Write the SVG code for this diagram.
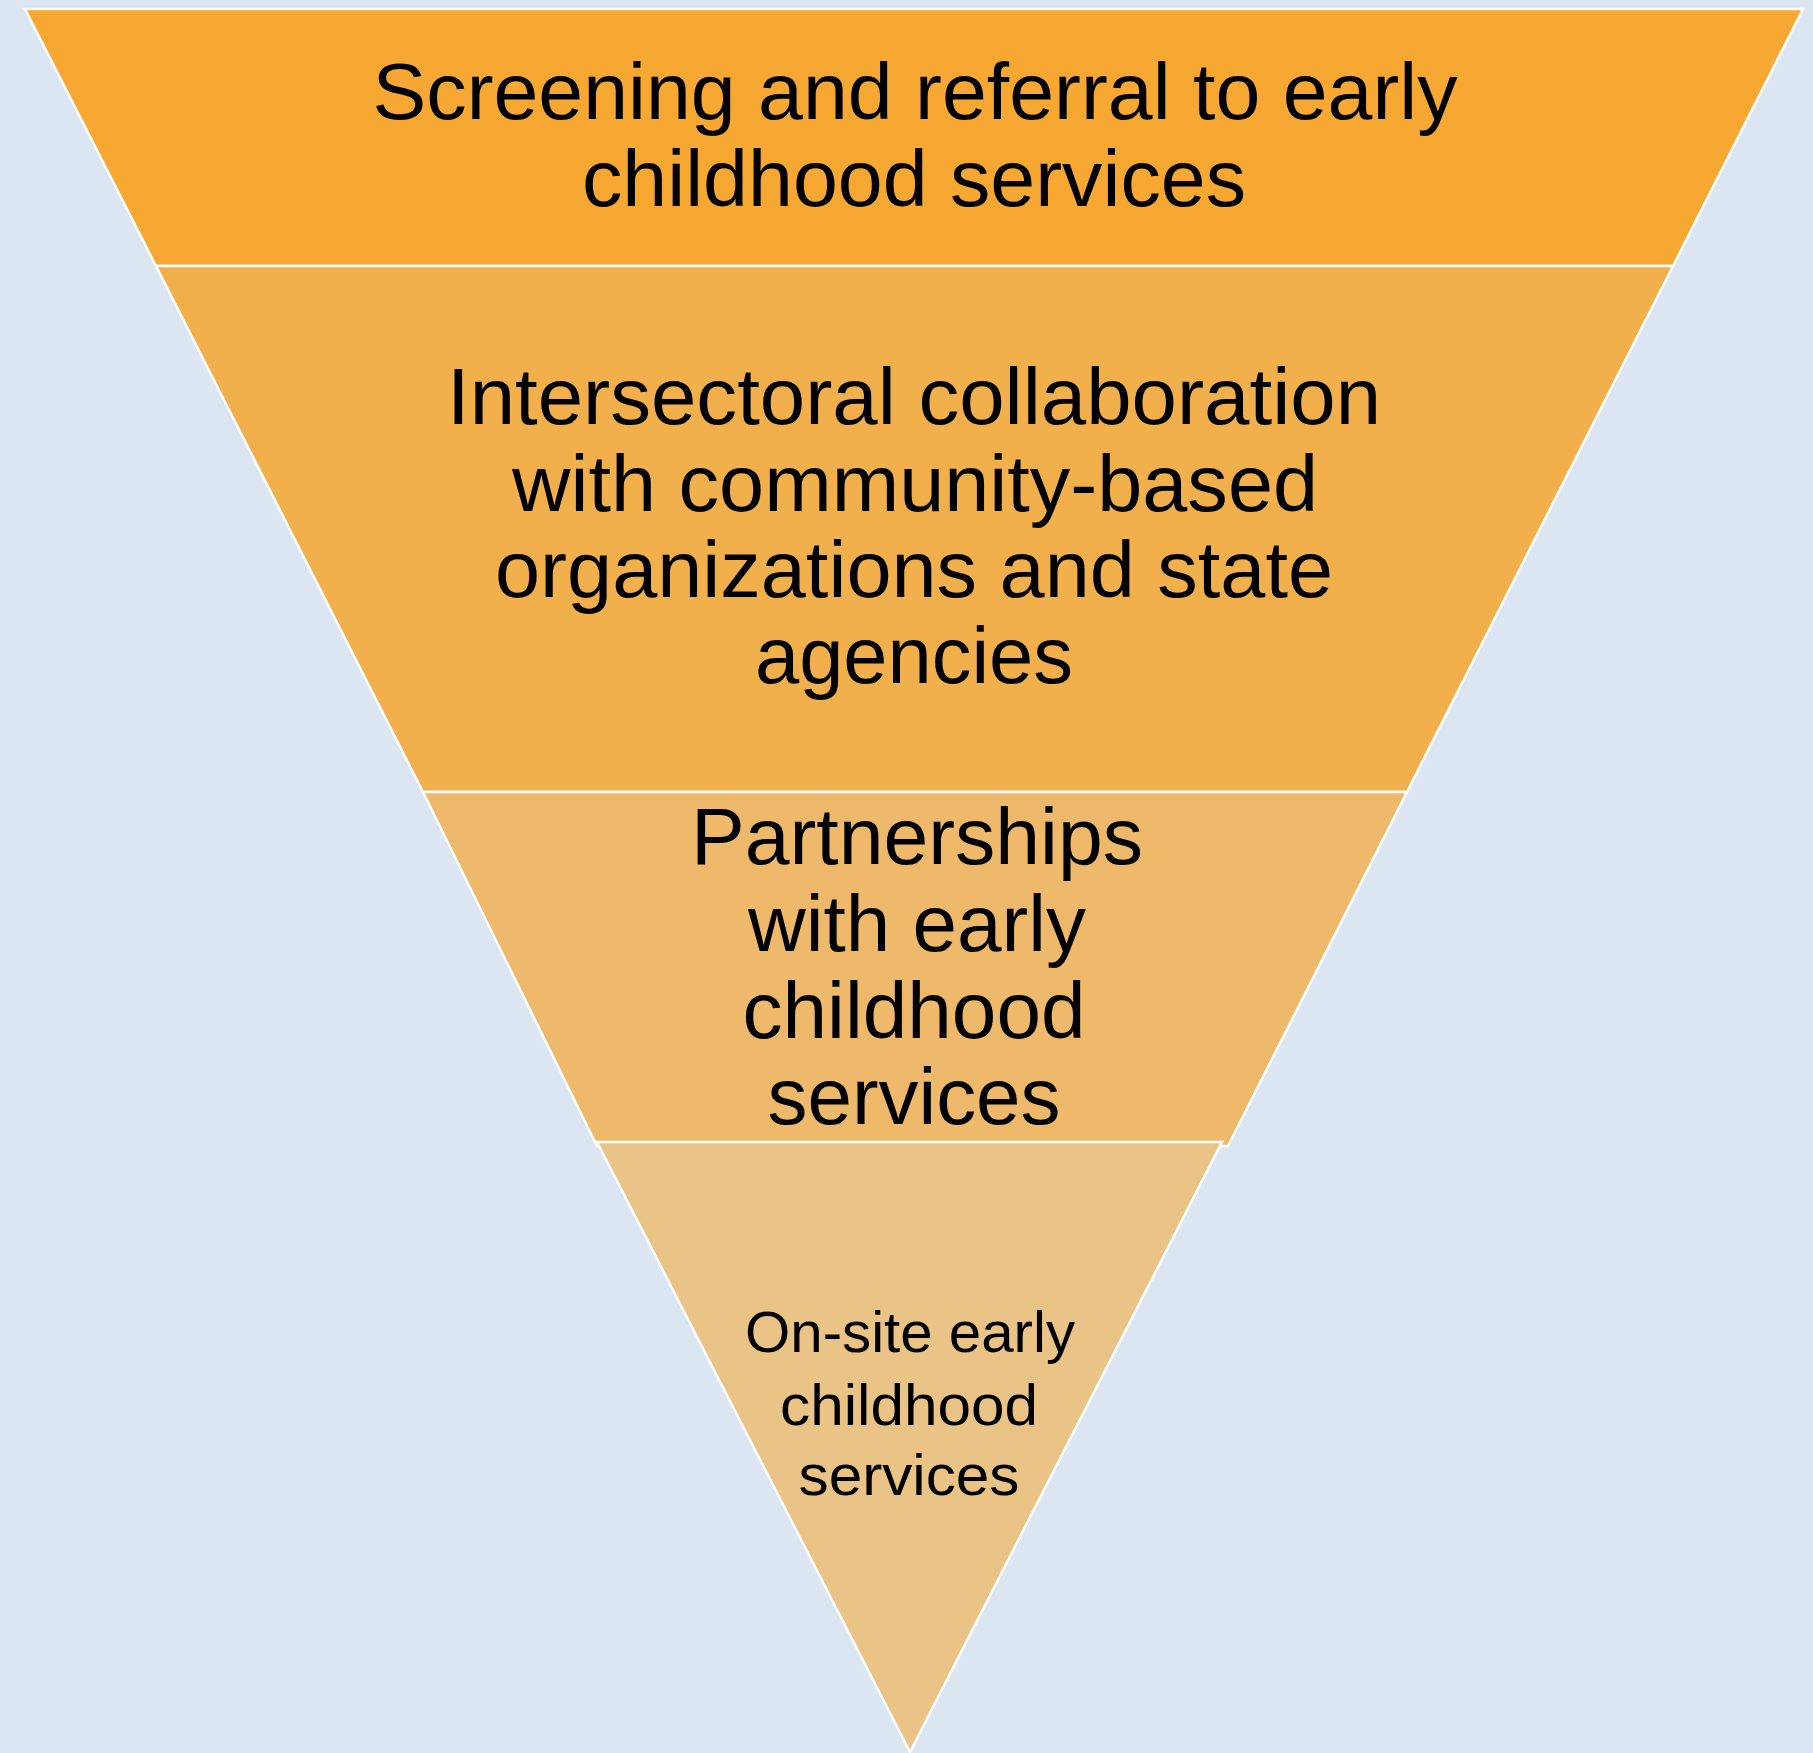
<svg xmlns="http://www.w3.org/2000/svg" width="1813" height="1753" viewBox="0 0 1813 1753">
<style>
.band{stroke:#FFFFFF;stroke-width:2.5;stroke-linejoin:miter}
.t{font-family:"Liberation Sans",Arial,sans-serif;fill:#000000;text-anchor:middle}
.big{font-size:80px}
.small{font-size:57px}
</style>
<rect width="1813" height="1753" fill="#DCE5F2"/>
<g id="band1">
<polygon class="band" fill="#F6A832" points="25,9 1803,9 1673,266 156,266"/>
<text class="t big" x="915" y="119" textLength="1085" lengthAdjust="spacingAndGlyphs">Screening and referral to early</text>
<text class="t big" x="914" y="206" textLength="664" lengthAdjust="spacingAndGlyphs">childhood services</text>
</g>
<g id="band2">
<polygon class="band" fill="#F1B04C" points="156,266 1673,266 1407,792 423,792"/>
<text class="t big" x="914" y="424" textLength="934" lengthAdjust="spacingAndGlyphs">Intersectoral collaboration</text>
<text class="t big" x="915" y="511" textLength="806" lengthAdjust="spacingAndGlyphs">with community-based</text>
<text class="t big" x="914" y="597" textLength="838" lengthAdjust="spacingAndGlyphs">organizations and state</text>
<text class="t big" x="914" y="683" textLength="318" lengthAdjust="spacingAndGlyphs">agencies</text>
</g>
<g id="band3">
<polygon class="band" fill="#EEB96A" points="423,792 1407,792 1228,1146 597,1146"/>
<text class="t big" x="917" y="864" textLength="452" lengthAdjust="spacingAndGlyphs">Partnerships</text>
<text class="t big" x="917" y="951" textLength="338" lengthAdjust="spacingAndGlyphs">with early</text>
<text class="t big" x="914" y="1038" textLength="343" lengthAdjust="spacingAndGlyphs">childhood</text>
<text class="t big" x="914" y="1124" textLength="293" lengthAdjust="spacingAndGlyphs">services</text>
</g>
<g id="band4">
<polygon class="band" fill="#EAC387" points="597,1142 1222,1142 910,1752"/>
<text class="t small" x="910" y="1352" textLength="330" lengthAdjust="spacingAndGlyphs">On-site early</text>
<text class="t small" x="909" y="1425" textLength="258" lengthAdjust="spacingAndGlyphs">childhood</text>
<text class="t small" x="909" y="1495" textLength="221" lengthAdjust="spacingAndGlyphs">services</text>
</g>
</svg>
